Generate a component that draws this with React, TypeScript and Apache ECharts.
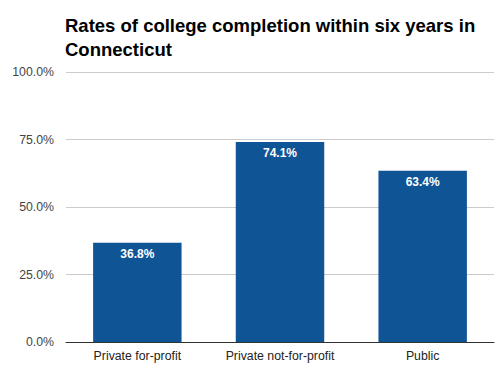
import React, { useEffect, useRef } from "react";
import * as echarts from "echarts";

const categories = ["Private for-profit", "Private not-for-profit", "Public"];
const values = [36.8, 74.1, 63.4];
const yTicks = [0, 25, 50, 75, 100];

export default function App() {
  const ref = useRef<HTMLDivElement>(null);
  useEffect(() => {
    const chart = echarts.init(ref.current!, null, { renderer: "svg" });
    chart.setOption({
      animation: false,
      backgroundColor: "#ffffff",
      title: {
        text: "Rates of college completion within six years in\nConnecticut",
        left: 60,
        top: 8,
        textStyle: {
          fontFamily: "Liberation Sans, Arial, sans-serif",
          fontSize: 18.5,
          fontWeight: "bold",
          color: "#000000",
          lineHeight: 24,
        },
      },
      grid: { left: 66, right: 10, top: 72, bottom: 33 },
      xAxis: {
        type: "category",
        data: categories,
        axisLine: { lineStyle: { color: "#333333", width: 1 } },
        axisTick: { show: false },
        axisLabel: {
          fontFamily: "Liberation Sans, Arial, sans-serif",
          fontSize: 12.3,
          color: "#222222",
          margin: 8,
        },
      },
      yAxis: {
        type: "value",
        min: yTicks[0],
        max: yTicks[yTicks.length - 1],
        interval: 25,
        axisLine: { show: false },
        axisTick: { show: false },
        splitLine: { lineStyle: { color: "#cccccc", width: 1 } },
        axisLabel: {
          fontFamily: "Liberation Sans, Arial, sans-serif",
          fontSize: 12.3,
          color: "#444444",
          margin: 12,
          formatter: (v: number) => v.toFixed(1) + "%",
        },
      },
      series: [
        {
          type: "bar",
          data: values,
          barWidth: "62%",
          itemStyle: { color: "#0f5495" },
          label: {
            show: true,
            position: "insideTop",
            distance: 5,
            color: "#ffffff",
            fontWeight: "bold",
            fontSize: 12,
            fontFamily: "Liberation Sans, Arial, sans-serif",
            formatter: (p: any) => p.value.toFixed(1) + "%",
          },
        },
      ],
    });
    return () => chart.dispose();
  }, []);
  return <div ref={ref} style={{ width: 504, height: 375, position: "absolute", left: 0, top: 0 }} />;
}
